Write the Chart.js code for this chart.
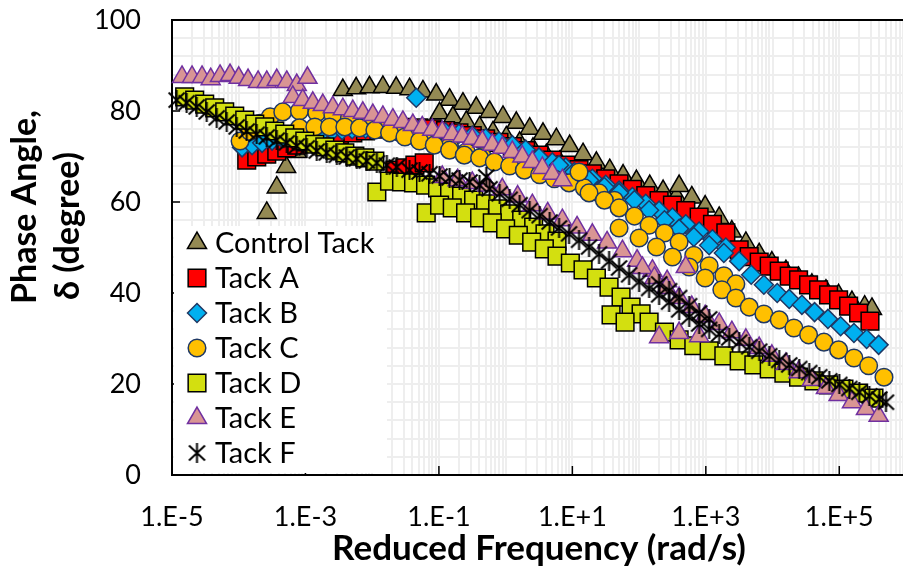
<!DOCTYPE html>
<html>
<head>
<meta charset="utf-8">
<title>Phase Angle Master Curves</title>
<script src="https://cdn.jsdelivr.net/npm/chart.js@4.4.1/dist/chart.umd.min.js"></script>
<style>
  html, body { margin: 0; padding: 0; background: #fff; overflow: hidden; }
  #wrap { width: 920px; height: 573px; }
</style>
</head>
<body>
<div id="wrap"><canvas id="phaseChart" width="920" height="573"></canvas></div>
<script>
// reduced frequency is kept as log10(rad/s), phase angle in degrees
const controlLogF = [-3.58, -3.43, -3.29, -3.13,
  -2.44, -2.24, -2.04, -1.84, -1.64, -1.44, -1.24, -1.04, -0.84, -0.64, -0.44, -0.24, -0.04, 0.16, 0.36, 0.56, 0.76, 0.96, 1.16, 1.36, 1.56, 1.76, 1.96, 2.16, 2.36, 2.56,
  -0.99, -0.79, -0.59, -0.39, -0.19, 0.01, 0.21, 0.41, 0.61, 0.81,
  2.60, 2.79, 2.99, 3.20, 3.39, 3.60, 3.80, 3.99, 4.20, 4.39, 4.59, 4.80, 4.99, 5.19, 5.38, 5.49];
const controlDelta = [57.6, 63.2, 67.7, 71.0,
  84.6, 85.0, 85.2, 85.3, 85.1, 84.8, 84.3, 83.6, 82.5, 81.6, 80.7, 79.8, 78.7, 77.4, 76.1, 75.0, 73.8, 72.3, 70.5, 68.6, 67.0, 65.8, 64.6, 63.5, 62.4, 61.2,
  79.5, 78.6, 77.6, 76.4, 75.3, 74.2, 73.0, 71.7, 70.3, 68.8,
  63.5, 61.0, 59.0, 56.5, 53.5, 51.0, 48.5, 46.7, 44.8, 43.3, 41.8, 40.5, 39.5, 38.0, 37.0, 36.5];

const tackALogF = [-3.88, -3.73, -3.58, -3.43, -3.28, -3.13, -2.98, -2.83, -2.68, -2.49, -2.29,
  -1.66, -1.51, -1.36, -1.22,
  -2.1, -1.9, -1.7, -1.5, -1.3, -1.1, -0.9, -0.7, -0.5, -0.3, -0.1, 0.1, 0.3, 0.5, 0.7, 0.9, 1.1, 1.3, 1.5, 1.7, 1.9, 2.1, 2.3, 2.5, 2.7, 2.9, 3.1, 3.3,
  3.5, 3.65, 3.8, 3.95, 4.1, 4.25, 4.39, 4.54, 4.69, 4.84, 4.99, 5.14, 5.29, 5.46];
const tackADelta = [69.2, 69.9, 70.5, 71.2, 71.9, 72.5, 73.2, 73.8, 74.3, 74.8, 75.2,
  67.0, 67.5, 68.1, 68.6,
  75.6, 76.0, 76.3, 76.4, 76.3, 76.1, 75.7, 75.2, 74.6, 73.9, 73.1, 72.2, 71.3, 70.3, 69.2, 68.1, 67.1, 66.2, 65.1, 64.0, 62.8, 61.4, 60.3, 59.3, 58.1, 56.7, 55.1, 53.2,
  49.5, 48.0, 46.8, 45.9, 44.8, 43.7, 42.9, 41.8, 40.7, 39.6, 38.5, 37.1, 35.6, 33.8];

const tackBLogF = [-3.95, -3.8, -3.65, -3.5, -3.35, -3.2, -3.05, -2.9, -2.75, -2.6, -2.45,
  -1.34,
  -2.3, -2.1, -1.9, -1.7, -1.5, -1.3, -1.1, -0.9, -0.7, -0.5, -0.3, -0.1, 0.1, 0.3, 0.5, 0.7, 0.9, 1.1, 1.3, 1.5, 1.7, 1.9, 2.1, 2.3, 2.5, 2.7, 2.9, 3.1, 3.3,
  0.8, 1.03, 1.25, 1.48, 1.7, 1.93, 2.15, 2.38, 2.6, 2.82, 3.05, 3.27, 3.5, 3.68, 3.87, 4.07, 4.25, 4.44, 4.63, 4.83, 5.02, 5.22, 5.41, 5.59];
const tackBDelta = [72.0, 72.5, 73.0, 73.5, 74.0, 74.4, 74.8, 75.1, 75.4, 75.6, 75.8,
  82.9,
  76.0, 76.1, 76.2, 76.2, 76.1, 75.9, 75.6, 75.3, 75.0, 74.6, 74.0, 73.3, 72.5, 71.5, 69.8, 68.7, 67.6, 66.4, 65.1, 63.8, 62.5, 61.1, 59.6, 58.1, 56.6, 55.1, 53.5, 51.8, 50.0,
  68.1, 66.6, 64.8, 63.3, 62.0, 60.4, 58.2, 56.0, 54.1, 52.3, 50.5, 48.8, 47.0, 44.0, 41.8, 40.0, 38.7, 37.4, 35.8, 34.3, 32.7, 31.2, 29.9, 28.6];

const tackCLogF = [-3.98, -3.83, -3.68, -3.53, -3.34, -3.09, -2.83, -2.59, -2.34, -2.08, -1.84, -1.59, -1.34, -1.10, -0.84, -0.59, -0.35,
  -3.09, -2.86, -2.64, -2.41, -2.19, -1.96, -1.74, -1.51, -1.29, -1.07, -0.84, -0.62, -0.39, -0.17, 0.06, 0.28, 0.51, 0.73, 0.95, 1.18, 1.40, 1.63,
  1.10,
  1.25, 1.48, 1.70, 1.93, 2.15, 2.38, 2.60, 2.82, 3.05, 3.27, 3.45,
  1.70, 2.00, 2.26, 2.50, 2.75, 2.99, 3.24, 3.45, 3.65, 3.87, 4.10, 4.32, 4.54, 4.77, 4.99, 5.22, 5.44, 5.67];
const tackCDelta = [73.4, 75.5, 77.3, 78.7, 79.8, 80.0, 79.6, 79.2, 78.5, 77.6, 76.4, 75.3, 74.3, 73.2, 72.2, 71.0, 70.0,
  76.3, 76.5, 76.5, 76.5, 76.3, 75.8, 75.2, 74.3, 73.4, 72.5, 71.4, 70.3, 69.7, 68.8, 67.9, 67.0, 66.0, 65.1, 64.2, 63.1, 62.0, 60.4,
  66.6,
  62.0, 60.4, 58.7, 56.9, 54.9, 53.2, 51.2, 48.3, 46.0, 43.8, 42.0,
  54.3, 52.1, 50.1, 47.9, 45.7, 43.3, 40.7, 38.9, 36.9, 35.4, 34.1, 32.3, 30.8, 29.2, 27.5, 25.7, 24.0, 21.5];

const tackDLogF = [-4.81, -4.66, -4.51, -4.36, -4.21, -4.06, -3.91, -3.76, -3.61, -3.46, -3.31, -3.16, -3.01, -2.86, -2.71, -2.56, -2.41, -2.26, -2.11, -1.96,
  -1.93, -1.74, -1.56, -1.38, -1.20, -1.02, -0.84, -0.66, -0.48, -0.30, -0.12, 0.06, 0.24, 0.42, 0.59, 0.77,
  -1.19, -0.99, -0.80, -0.60, -0.39, -0.20, 0.00, 0.19, 0.39, 0.58, 0.77, 0.97, 1.16, 1.36, 1.55, 1.73, 1.88, 2.03,
  1.58, 1.79,
  2.15, 2.38, 2.60, 2.82, 3.05, 3.27, 3.50, 3.72, 3.95, 4.17, 4.39, 4.62, 4.84, 5.07, 5.29, 5.52];
const tackDDelta = [83.1, 82.4, 81.5, 80.7, 79.8, 78.9, 78.0, 77.1, 76.5, 75.6, 74.9, 74.1, 73.4, 72.7, 72.1, 71.4, 70.8, 70.1, 69.7, 69.0,
  62.2, 64.6, 64.4, 64.2, 63.7, 63.1, 62.2, 61.3, 60.4, 59.6, 58.5, 57.4, 56.0, 54.5, 53.0, 51.4,
  57.6, 59.3, 58.7, 57.6, 56.5, 55.4, 54.1, 52.7, 51.2, 49.7, 48.1, 46.6, 45.1, 43.3, 41.3, 39.1, 36.9, 35.4,
  35.2, 33.6,
  33.6, 31.4, 29.7, 28.4, 27.3, 26.2, 25.1, 24.2, 23.3, 22.4, 21.5, 20.7, 19.8, 18.9, 18.0, 16.9];

const tackELogF = [-4.85, -4.70, -4.55, -4.42, -4.28, -4.13, -4.00, -3.86, -3.71, -3.58, -3.43, -3.28, -3.13, -2.97,
  -3.19, -3.04, -2.89, -2.74, -2.59, -2.44, -2.29, -2.14, -1.99, -1.84, -1.69, -1.54, -1.39, -1.25, -1.10, -0.95, -0.80, -0.65, -0.50, -0.35, -0.20, -0.05, 0.10, 0.25, 0.40, 0.55, 0.70, 0.85,
  -0.95, -0.72, -0.50, -0.27, -0.05, 0.18, 0.40, 0.63, 0.85, 1.07, 1.30, 1.52, 1.75, 1.97, 2.20, 2.42,
  2.05, 2.23, 2.41, 2.60, 2.79, 2.99, 3.20, 3.39, 3.60, 3.80, 3.99, 4.20, 4.39, 4.59, 4.80, 4.99, 5.19, 5.40, 5.59,
  2.30, 2.60, 2.90,
  2.70];
const tackEDelta = [87.5, 87.5, 87.5, 87.0, 87.7, 87.9, 87.3, 86.8, 86.4, 86.4, 86.8, 86.4, 85.7, 87.3,
  83.1, 82.4, 81.8, 81.3, 80.8, 80.4, 80.0, 79.6, 79.1, 78.7, 78.1, 77.6, 76.9, 76.4, 75.9, 75.4, 74.9, 74.4, 73.9, 73.3, 72.6, 71.9, 71.0, 70.0, 68.8, 67.5, 66.2, 64.8,
  65.5, 64.8, 64.2, 63.6, 62.8, 61.2, 59.3, 57.5, 56.0, 54.4, 52.8, 51.1, 49.2, 47.1, 44.9, 42.6,
  45.5, 43.3, 41.1, 38.9, 36.9, 34.9, 33.2, 31.4, 29.7, 27.9, 26.2, 24.4, 22.6, 20.9, 19.1, 17.6, 16.0, 14.5, 13.0,
  30.3, 31.2, 30.5,
  45.7];

const tackFLogF = [-4.93, -4.78, -4.63, -4.48, -4.33, -4.18, -4.03, -3.88, -3.73, -3.58, -3.43, -3.28, -3.13, -2.98, -2.83, -2.68, -2.53, -2.38, -2.23, -2.08, -1.93, -1.78, -1.63,
  -1.44, -1.29, -1.14, -0.99, -0.84, -0.69, -0.54, -0.39, -0.24, -0.09, 0.06, 0.21, 0.36, 0.51, 0.66, 0.80, 0.95, 1.10, 1.25, 1.40, 1.55, 1.70, 1.85, 2.00,
  -0.29,
  2.15, 2.30, 2.45, 2.60, 2.75, 2.90, 3.05, 3.20, 3.35, 3.50, 3.65, 3.80, 3.95, 4.10, 4.25, 4.40, 4.55, 4.70, 4.85, 5.00, 5.15, 5.30, 5.45, 5.60, 5.70,
  2.30, 2.45, 2.60, 2.75, 2.90, 3.05];
const tackFDelta = [82.4, 81.8, 80.9, 79.8, 78.5, 77.6, 76.5, 75.6, 74.9, 74.3, 73.6, 73.0, 72.3, 71.9, 71.2, 70.8, 70.3, 69.9, 69.5, 69.0, 68.6, 68.1, 67.7,
  67.0, 66.6, 66.2, 65.7, 65.3, 64.8, 64.4, 63.7, 62.9, 61.8, 60.6, 59.4, 58.1, 57.0, 55.6, 54.3, 53.0, 51.6, 50.1, 48.6, 47.0, 45.5, 44.0, 42.5,
  65.5,
  41.0, 39.6, 38.0, 36.3, 34.7, 33.2, 32.0, 31.0, 30.1, 29.2, 28.2, 27.2, 26.2, 25.2, 24.2, 23.4, 22.5, 21.6, 20.7, 19.9, 19.0, 18.2, 17.4, 16.7, 16.0,
  42.0, 40.5, 39.0, 37.2, 35.6, 34.3];

const seriesNames = ['Control Tack', 'Tack A', 'Tack B', 'Tack C', 'Tack D', 'Tack E', 'Tack F'];

// Excel-style asterisk marker: an X with a vertical bar through it
function makeAsterisk(size) {
  const c = document.createElement('canvas');
  c.width = size;
  c.height = size + 1;
  const g = c.getContext('2d');
  g.strokeStyle = '#000';
  g.lineWidth = 2;
  g.beginPath();
  g.moveTo(1.5, 2.5); g.lineTo(size - 1.5, size - 1.5);
  g.moveTo(size - 1.5, 2.5); g.lineTo(1.5, size - 1.5);
  g.moveTo(size / 2, 0); g.lineTo(size / 2, size + 1);
  g.stroke();
  return c;
}
const asterisk = makeAsterisk(19);

const markerStyles = [
  { pointStyle: 'triangle', pointRadius: 11, pointBackgroundColor: '#948a54', pointBorderColor: '#000', pointBorderWidth: 1.5 },
  { pointStyle: 'rect', pointRadius: 12.5, pointBackgroundColor: '#ff0000', pointBorderColor: '#000', pointBorderWidth: 1.5 },
  { pointStyle: 'rectRot', pointRadius: 9.5, pointBackgroundColor: '#00b0f0', pointBorderColor: '#1f3864', pointBorderWidth: 1.5 },
  { pointStyle: 'circle', pointRadius: 8.8, pointBackgroundColor: '#ffc000', pointBorderColor: '#1f3864', pointBorderWidth: 1.5 },
  { pointStyle: 'rect', pointRadius: 12.5, pointBackgroundColor: '#d3df10', pointBorderColor: '#000', pointBorderWidth: 1.5 },
  { pointStyle: 'triangle', pointRadius: 11, pointBackgroundColor: '#d99594', pointBorderColor: '#7030a0', pointBorderWidth: 1.5 },
  { pointStyle: asterisk, pointRadius: 10, pointBackgroundColor: '#000', pointBorderColor: '#000', pointBorderWidth: 0 }
];

const seriesData = [
  [controlLogF, controlDelta],
  [tackALogF, tackADelta],
  [tackBLogF, tackBDelta],
  [tackCLogF, tackCDelta],
  [tackDLogF, tackDDelta],
  [tackELogF, tackEDelta],
  [tackFLogF, tackFDelta]
];

function toPoints(logF, delta) {
  return logF.map((f, i) => ({ x: Math.pow(10, f), y: delta[i] }));
}

// later series sit on top, so the last one gets the lowest order
const datasets = seriesData.map(([logF, delta], i) => Object.assign({
  label: seriesNames[i],
  data: toPoints(logF, delta),
  showLine: false,
  clip: false,
  order: seriesData.length - 1 - i
}, markerStyles[i]));

// gridlines at 1..9 of every decade
const freqGrid = [];
for (let e = -5; e <= 5; e++) {
  for (let m = 1; m <= 9; m++) freqGrid.push(parseFloat(m + 'e' + e));
}
freqGrid.push(1e6);

function freqLabel(v) {
  const lg = Math.log10(v);
  const e = Math.round(lg);
  if (Math.abs(lg - e) > 1e-6 || e % 2 === 0) return '';
  return '1.E' + (e < 0 ? '-' : '+') + Math.abs(e);
}

const frameAndLegend = {
  id: 'frameAndLegend',
  beforeDatasetsDraw(chart) {
    const { ctx, chartArea: a, scales } = chart;
    ctx.save();
    ctx.strokeStyle = '#000';
    ctx.lineWidth = 2;
    ctx.strokeRect(a.left, a.top, a.right - a.left, a.bottom - a.top);
    ctx.lineWidth = 1.5;
    ctx.beginPath();
    [20, 40, 60, 80].forEach(v => {
      const y = scales.y.getPixelForValue(v);
      ctx.moveTo(a.left, y);
      ctx.lineTo(a.left + 8, y);
    });
    [1e-5, 1e-3, 1e-1, 1e1, 1e3, 1e5].forEach(v => {
      const x = scales.x.getPixelForValue(v);
      ctx.moveTo(x, a.bottom);
      ctx.lineTo(x, a.bottom - 9);
    });
    ctx.stroke();
    ctx.restore();
  },
  afterDatasetsDraw(chart) {
    const { ctx, chartArea: a } = chart;
    ctx.save();
    ctx.fillStyle = '#fff';
    ctx.fillRect(a.left + 2, a.bottom - 249, 213, 247);
    ctx.font = '29px Lato, "Open Sans", sans-serif';
    ctx.textAlign = 'left';
    ctx.textBaseline = 'alphabetic';
    chart.data.datasets.forEach((ds, i) => {
      const y = a.bottom - 232 + i * 35;
      const x = a.left + 25;
      ctx.fillStyle = ds.pointBackgroundColor;
      ctx.strokeStyle = ds.pointBorderColor;
      ctx.lineWidth = ds.pointBorderWidth;
      Chart.helpers.drawPoint(ctx, {
        pointStyle: ds.pointStyle,
        radius: ds.pointRadius,
        borderWidth: ds.pointBorderWidth,
        rotation: 0
      }, x, y);
      ctx.fillStyle = '#000';
      ctx.fillText(ds.label, a.left + 43, y + 10);
    });
    ctx.restore();
  },
  afterDraw(chart) {
    const ctx = chart.ctx;
    ctx.save();
    ctx.fillStyle = '#000';
    ctx.font = 'bold 34px Lato, "Open Sans", sans-serif';
    ctx.textAlign = 'center';
    ctx.textBaseline = 'alphabetic';
    [['Phase Angle,', 36, 207], ['\u03b4 (degree)', 79, 226]].forEach(([txt, x, y]) => {
      ctx.save();
      ctx.translate(x, y);
      ctx.rotate(-Math.PI / 2);
      ctx.fillText(txt, 0, 0);
      ctx.restore();
    });
    ctx.restore();
  }
};

Chart.defaults.font.family = 'Lato, "Open Sans", sans-serif';
Chart.defaults.color = '#000';

// label offsets go through invisible tick marks so they do not pad the plot area
new Chart(document.getElementById('phaseChart'), {
  type: 'scatter',
  data: { datasets },
  options: {
    responsive: false,
    animation: false,
    events: [],
    devicePixelRatio: 1,
    layout: { padding: { top: 20, right: 2.5, bottom: 0, left: 0 } },
    plugins: {
      legend: { display: false },
      tooltip: { enabled: false }
    },
    scales: {
      x: {
        type: 'logarithmic',
        position: 'bottom',
        min: 1e-5,
        max: 1e6,
        afterBuildTicks: s => { s.ticks = freqGrid.map(v => ({ value: v })); },
        afterFit: s => { s.height = 98; },
        grid: { color: '#eeeeee', lineWidth: 2, drawTicks: true, tickLength: 26, tickColor: 'rgba(0,0,0,0)' },
        border: { display: false },
        ticks: {
          autoSkip: false,
          maxRotation: 0,
          padding: 0,
          font: { size: 27 },
          callback: v => freqLabel(v)
        },
        title: {
          display: true,
          text: 'Reduced Frequency (rad/s)',
          font: { size: 35, weight: 'bold' },
          padding: { top: 0, bottom: 3 }
        }
      },
      y: {
        min: 0,
        max: 100,
        afterFit: s => { s.width = 172; },
        grid: { color: '#eeeeee', lineWidth: 2, drawTicks: true, tickLength: 31, tickColor: 'rgba(0,0,0,0)' },
        border: { display: false },
        ticks: {
          stepSize: 4,
          autoSkip: false,
          padding: 0,
          font: { size: 27 },
          callback: v => (v % 20 === 0 ? v : '')
        }
      }
    }
  },
  plugins: [frameAndLegend]
});
</script>
</body>
</html>
